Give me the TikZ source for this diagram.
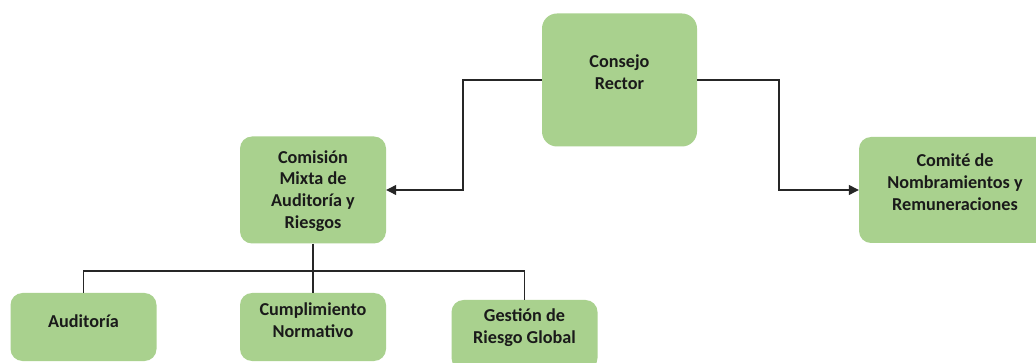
\documentclass[tikz,border=0pt]{standalone}
\usepackage{fontspec}
\setmainfont{Carlito}
\usetikzlibrary{arrows.meta}
\definecolor{boxgreen}{HTML}{A9D18E}
\definecolor{linegray}{HTML}{262626}
\definecolor{txt}{HTML}{1A1A1A}
\tikzset{
  orgbox/.style={rectangle, rounded corners=12pt, fill=boxgreen, draw=none, inner sep=0pt},
  lbl/.style={align=center, inner sep=0pt, text=txt, font=\bfseries\fontsize{18.2}{21.8}\selectfont},
  conn/.style={draw=linegray, line width=1.2pt},
  arr/.style={conn, -{Triangle[length=10pt,width=10pt]}}
}
\begin{document}
\begin{tikzpicture}[x=1pt,y=-1pt]
\useasboundingbox (0,0) rectangle (1036,363);
\fill[white] (0,0) rectangle (1036,363);
% boxes
\node[orgbox, rounded corners=15pt, minimum width=155pt, minimum height=133pt] (consejo) at (619.5,80) {};
\node[orgbox, minimum width=146pt, minimum height=107pt] (comision) at (313,190) {};
\node[orgbox, minimum width=192pt, minimum height=106pt] (comite) at (955,190) {};
\node[orgbox, minimum width=146pt, minimum height=68pt] (auditoria) at (83.5,327) {};
\node[orgbox, minimum width=146pt, minimum height=68pt] (cumplimiento) at (313,327) {};
\node[orgbox, minimum width=146pt, minimum height=70pt] (gestion) at (524.5,335) {};
% labels
\node[lbl] (tconsejo) at ([yshift=8pt]consejo.center) {Consejo\\Rector};
\node[lbl] (tcomision) at ([yshift=-1pt]comision.center) {Comisión\\Mixta de\\Auditoría y\\Riesgos};
\node[lbl] (tcomite) at ([yshift=8pt]comite.center) {Comité de\\Nombramientos y\\Remuneraciones};
\node[lbl] (tauditoria) at ([yshift=6pt]auditoria.center) {Auditoría};
\node[lbl] (tcumplimiento) at ([yshift=7pt]cumplimiento.center) {Cumplimiento\\Normativo};
\node[lbl] (tgestion) at ([yshift=7pt]gestion.center) {Gestión de\\Riesgo Global};
% connectors
\coordinate (jl) at (463,190);
\coordinate (jr) at (779,190);
\coordinate (bus) at (313,271);
\draw[arr] (consejo.west) -| (jl) -- (comision.east);
\draw[arr] (consejo.east) -| (jr) -- (comite.west);
\draw[conn] (comision.south) -- (cumplimiento.north);
\draw[conn] (auditoria.north) |- (bus) -| (gestion.north);
\end{tikzpicture}
\end{document}
